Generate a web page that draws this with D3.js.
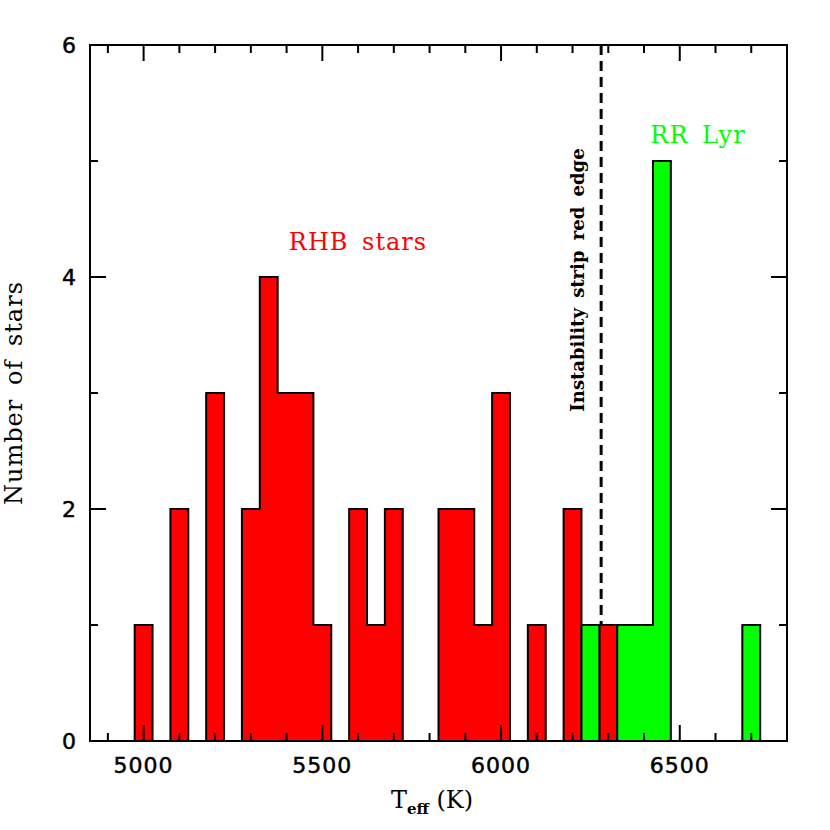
<!DOCTYPE html>
<html>
<head>
<meta charset="utf-8">
<script src="https://cdn.jsdelivr.net/npm/d3@7"></script>
<style>
  body { margin: 0; background: #fff; }
  svg { display: block; }
</style>
</head>
<body>
<div id="chart"></div>
<script>
// bin centres (K) and counts, bins are 50 K wide
var rhbTeff  = [5000, 5100, 5200, 5300, 5350, 5400, 5450, 5500, 5600, 5650, 5700, 5850, 5900, 5950, 6000, 6100, 6200, 6300];
var rhbCount = [1, 2, 3, 2, 4, 3, 3, 1, 2, 1, 2, 2, 2, 1, 3, 1, 2, 1];
var rrTeff   = [6250, 6350, 6400, 6450, 6700];
var rrCount  = [1, 1, 1, 5, 1];
var binWidth = 50;

var xMajor = [5000, 5500, 6000, 6500];
var xMinor = [4900, 5000, 5100, 5200, 5300, 5400, 5500, 5600, 5700, 5800, 5900, 6000, 6100, 6200, 6300, 6400, 6500, 6600, 6700];
var yMajor = [0, 2, 4, 6];
var yMinor = [1, 3, 5];
var redEdge = 6280;

var width = 830, height = 830;
var margin = {left: 90, right: 43, top: 45, bottom: 89};

var x = d3.scaleLinear().domain([4850, 6800]).range([margin.left, width - margin.right]);
var y = d3.scaleLinear().domain([0, 6]).range([height - margin.bottom, margin.top]);

var svg = d3.select('#chart').append('svg')
    .attr('width', width)
    .attr('height', height);

// dashed instability strip line (behind bars)
svg.append('line')
    .attr('x1', x(redEdge)).attr('x2', x(redEdge))
    .attr('y1', y(6)).attr('y2', y(0))
    .attr('stroke', '#000')
    .attr('stroke-width', 3)
    .attr('stroke-dasharray', '10,6');

// turn bins into a step outline
function stepPoints(centres, counts){
    var pts = [[x.domain()[0], 0]];
    for (var i = 0; i < centres.length; i++){
        var left = centres[i] - binWidth / 2, right = centres[i] + binWidth / 2;
        pts.push([left, counts[i]]);
        var nextLeft = i < centres.length - 1 ? centres[i + 1] - binWidth / 2 : null;
        if (nextLeft === null || nextLeft > right) pts.push([right, 0]);
    }
    pts.push([x.domain()[1], 0]);
    return pts;
}

var area = d3.area().curve(d3.curveStepAfter)
    .x(function(d){ return x(d[0]); })
    .y0(y(0))
    .y1(function(d){ return y(d[1]); });
var line = d3.line().curve(d3.curveStepAfter)
    .x(function(d){ return x(d[0]); })
    .y(function(d){ return y(d[1]); });

[[rhbTeff, rhbCount, '#ff0000'], [rrTeff, rrCount, '#00ff00']].forEach(function(h){
    var pts = stepPoints(h[0], h[1]);
    svg.append('path').attr('d', area(pts)).attr('fill', h[2]);
    svg.append('path').attr('d', line(pts))
        .attr('fill', 'none').attr('stroke', '#000').attr('stroke-width', 2);
});

// frame and ticks on all four sides
var g = svg.append('g').attr('stroke', '#000').attr('stroke-width', 2);
g.append('rect')
    .attr('x', x.range()[0]).attr('y', y.range()[1])
    .attr('width', x.range()[1] - x.range()[0])
    .attr('height', y.range()[0] - y.range()[1])
    .attr('fill', 'none');

xMinor.forEach(function(v){
    var len = xMajor.indexOf(v) >= 0 ? 16 : 8;
    g.append('line').attr('x1', x(v)).attr('x2', x(v)).attr('y1', y(0)).attr('y2', y(0) - len);
    g.append('line').attr('x1', x(v)).attr('x2', x(v)).attr('y1', y(6)).attr('y2', y(6) + len);
});
yMajor.concat(yMinor).forEach(function(v){
    var len = yMajor.indexOf(v) >= 0 ? 16 : 8;
    g.append('line').attr('x1', x(4850)).attr('x2', x(4850) + len).attr('y1', y(v)).attr('y2', y(v));
    g.append('line').attr('x1', x(6800)).attr('x2', x(6800) - len).attr('y1', y(v)).attr('y2', y(v));
});

// tick labels
svg.selectAll('.xlab').data(xMajor).enter().append('text')
    .attr('x', function(d){ return x(d); })
    .attr('y', 773)
    .attr('text-anchor', 'middle')
    .attr('stroke', '#000').attr('stroke-width', 0.5)
    .style('font-family', 'DejaVu Sans')
    .style('font-size', '22px')
    .style('letter-spacing', '1px')
    .text(function(d){ return d; });

svg.selectAll('.ylab').data(yMajor).enter().append('text')
    .attr('x', 76)
    .attr('y', function(d){ return y(d) + 8; })
    .attr('text-anchor', 'end')
    .attr('stroke', '#000').attr('stroke-width', 0.5)
    .style('font-family', 'DejaVu Sans')
    .style('font-size', '22px')
    .text(function(d){ return d; });

// axis titles
svg.append('text')
    .attr('transform', 'translate(22,393) rotate(-90)')
    .attr('text-anchor', 'middle')
    .style('font-family', 'DejaVu Serif')
    .style('font-size', '24px')
    .style('letter-spacing', '1px')
    .style('word-spacing', '5px')
    .text('Number of stars');

var xt = svg.append('text')
    .attr('x', 432).attr('y', 808)
    .attr('text-anchor', 'middle')
    .style('font-family', 'DejaVu Serif')
    .style('font-size', '24px');
xt.append('tspan').text('T');
xt.append('tspan').attr('dy', 6).style('font-size', '15px').style('font-weight', 'bold').text('eff');
xt.append('tspan').attr('dy', -6).text('\u00a0(K)');

// annotations
svg.append('text')
    .attr('x', 358).attr('y', 250)
    .attr('text-anchor', 'middle')
    .attr('fill', '#ff0000')
    .style('font-family', 'DejaVu Serif')
    .style('font-size', '24px')
    .style('letter-spacing', '1px')
    .style('word-spacing', '5px')
    .text('RHB stars');

svg.append('text')
    .attr('x', 698).attr('y', 143)
    .attr('text-anchor', 'middle')
    .attr('fill', '#00ff00')
    .style('font-family', 'DejaVu Serif')
    .style('font-size', '24px')
    .style('letter-spacing', '1px')
    .style('word-spacing', '5px')
    .text('RR Lyr');

svg.append('text')
    .attr('transform', 'translate(584,280) rotate(-90)')
    .attr('text-anchor', 'middle')
    .style('font-family', 'DejaVu Serif')
    .style('font-size', '18px')
    .style('font-weight', 'bold')
    .style('word-spacing', '4px')
    .text('Instability strip red edge');
</script>
</body>
</html>
